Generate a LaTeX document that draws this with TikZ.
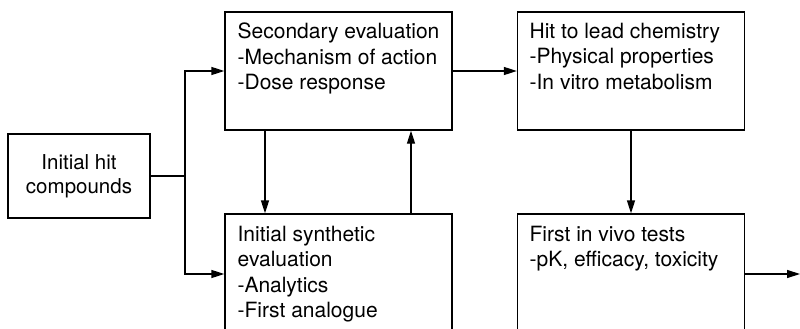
\documentclass[tikz,border=0pt]{standalone}
\usepackage{fontspec}
\setmainfont{TeX Gyre Heros}
\usetikzlibrary{arrows.meta}
\begin{document}
\begin{tikzpicture}[x=1pt, y=-1pt, line width=1.3pt,
  stage/.style={draw, minimum width=227pt, minimum height=118pt, inner sep=0pt},
  stagetext/.style={anchor=north west, inner sep=0pt, align=left, font=\fontsize{21}{25.5}\selectfont},
  flow/.style={-{Triangle[length=13pt, width=8pt]}}]
\clip (0,0) rectangle (800,329);
% boxes
\node[draw, minimum width=142pt, minimum height=84pt, align=center, font=\fontsize{20.5}{24}\selectfont] (hit) at (79,176) {Initial hit\\compounds};
\node[stage] (sec) at (338.5,71) {};
\node[stage, minimum height=120pt] (syn) at (338.5,274) {};
\node[stage] (lead) at (631,71) {};
\node[stage, minimum height=120pt] (vivo) at (631,274) {};
% box texts
\node[stagetext] (sectext) at (237,22.5) {Secondary evaluation\\-Mechanism of action\\-Dose response};
\node[stagetext] (syntext) at (237,225.5) {Initial synthetic\\evaluation\\-Analytics\\-First analogue};
\node[stagetext] (leadtext) at (529,22.5) {Hit to lead chemistry\\-Physical properties\\-In vitro metabolism};
\node[stagetext] (vivotext) at (529,225.5) {First in vivo tests\\-pK, efficacy, toxicity};
% connectors
\coordinate (fork) at (185,176);
\coordinate (out) at (800,274);
\draw (hit.east) -- (fork);
\draw[flow] (fork) |- (sec.west);
\draw[flow] (fork) |- (syn.west);
\draw[flow] ([xshift=-73.5pt]sec.south) -- ([xshift=-73.5pt]syn.north);
\draw[flow] ([xshift=72.5pt]syn.north) -- ([xshift=72.5pt]sec.south);
\draw[flow] (sec.east) -- (lead.west);
\draw[flow] (lead.south) -- (vivo.north);
\draw[flow] (vivo.east) -- (out);
\end{tikzpicture}
\end{document}
